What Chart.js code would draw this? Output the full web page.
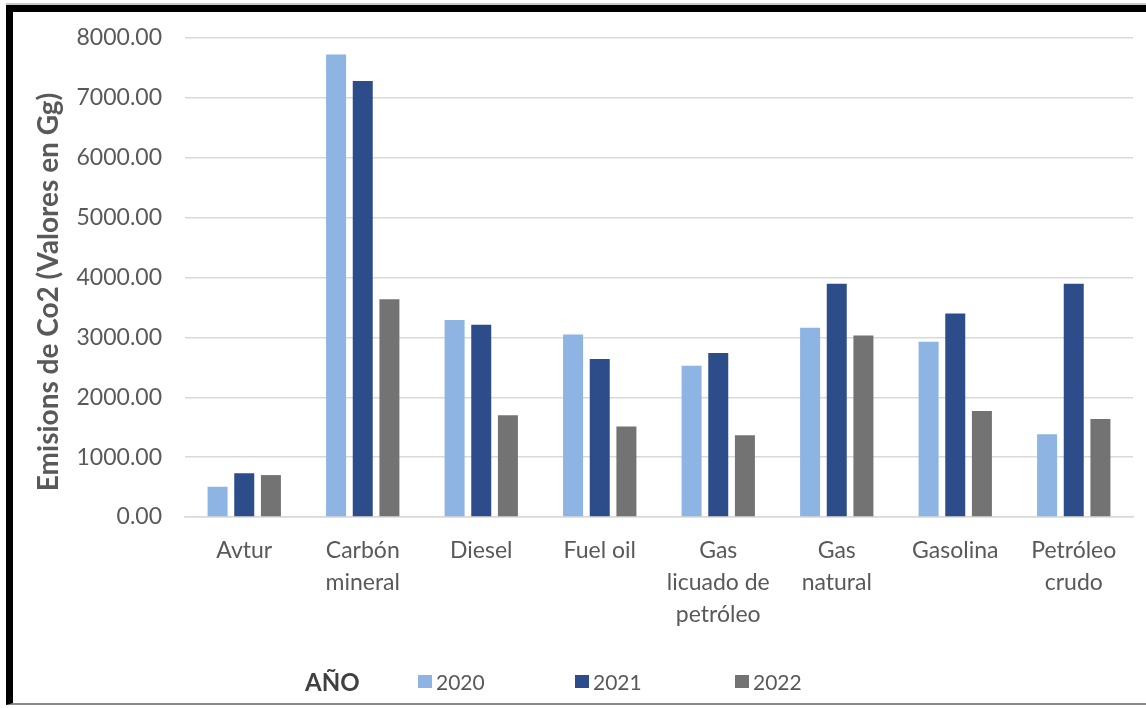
<!DOCTYPE html>
<html>
<head>
<meta charset="utf-8">
<script src="https://cdn.jsdelivr.net/npm/chart.js@4/dist/chart.umd.min.js"></script>
<style>
  html, body { margin: 0; padding: 0; background: #ffffff; }
  body { width: 1146px; height: 708px; position: relative; overflow: hidden; font-family: Lato, "Liberation Sans", sans-serif; }
  #wrap { position: absolute; left: 0; top: 0; width: 1146px; height: 708px; }
  #frame { position: absolute; left: 6px; top: 5px; width: 1160px; height: 700px;
           border-left: 7px solid #000; border-top: 7px solid #000; border-bottom: 2px solid #8a8a8a;
           box-sizing: border-box; pointer-events: none; }
  #topshade { position: absolute; left: 6px; top: 3px; width: 1160px; height: 2px; background: #c8c8c8; }
  #legend { position: absolute; left: 305px; top: 668px; height: 26px; display: flex; align-items: center;
            font-size: 21px; color: #595959; }
  #legend .ttl { font-weight: bold; color: #404040; font-size: 24px; }
  #legend .item { position: absolute; display: flex; align-items: center; white-space: nowrap; }
  #legend .box { width: 14px; height: 13px; margin-right: 4px; }
</style>
</head>
<body>
<div id="wrap"><canvas id="chart" width="1146" height="708"></canvas></div>
<div id="topshade"></div>
<div id="frame"></div>
<div id="legend"></div>
<script>
// Fuel categories (multi-line labels)
const categories = [
  ["Avtur"],
  ["Carbón", "mineral"],
  ["Diesel"],
  ["Fuel oil"],
  ["Gas", "licuado de", "petróleo"],
  ["Gas", "natural"],
  ["Gasolina"],
  ["Petróleo", "crudo"]
];

// CO2 emissions per year (Gg)
const years = ["2020", "2021", "2022"];
const values2020 = [505, 7725, 3290, 3050, 2528, 3160, 2925, 1380];
const values2021 = [730, 7280, 3210, 2640, 2740, 3895, 3400, 3895];
const values2022 = [700, 3635, 1700, 1510, 1367, 3030, 1770, 1635];

const yTicks = [0, 1000, 2000, 3000, 4000, 5000, 6000, 7000, 8000];
const yTitle = "Emisions de Co2 (Valores en Gg)";
const legendTitle = "AÑO";

const colors = ["#8db4e2", "#2c4d89", "#737373"];
const seriesValues = [values2020, values2021, values2022];
const textColor = "#595959";
const fontFamily = "Lato, 'Liberation Sans', sans-serif";

const datasets = years.map((y, i) => ({
  label: y,
  data: seriesValues[i],
  backgroundColor: colors[i],
  borderWidth: 0,
  categoryPercentage: 0.675,
  barPercentage: 0.75
}));

// Rotated y-axis title, drawn beside the tick labels
const yTitlePlugin = {
  id: 'yTitle',
  afterDraw(chart) {
    const ctx = chart.ctx;
    ctx.save();
    ctx.translate(49, 292);
    ctx.rotate(-Math.PI / 2);
    ctx.font = "bold 28px " + fontFamily;
    ctx.fillStyle = textColor;
    ctx.textAlign = "center";
    ctx.textBaseline = "middle";
    ctx.fillText(yTitle, 0, 0);
    ctx.restore();
  }
};

new Chart(document.getElementById('chart'), {
  type: 'bar',
  data: { labels: categories, datasets },
  plugins: [yTitlePlugin],
  options: {
    responsive: false,
    animation: false,
    maintainAspectRatio: false,
    layout: { padding: { left: 0, right: 13, top: 38, bottom: 0 } },
    plugins: {
      legend: { display: false },
      tooltip: { enabled: false }
    },
    scales: {
      x: {
        grid: { display: false, drawTicks: false },
        border: { display: true, color: "#d9d9d9", width: 1.5 },
        ticks: {
          color: textColor,
          font: { family: fontFamily, size: 23, lineHeight: 1.39 },
          padding: 18,
          maxRotation: 0,
          autoSkip: false
        },
        afterFit(scale) { scale.height = 191; }
      },
      y: {
        min: 0,
        max: 8000,
        afterBuildTicks(scale) { scale.ticks = yTicks.map(v => ({ value: v })); },
        grid: { color: "#d9d9d9", lineWidth: 1.5, drawTicks: false },
        border: { display: false },
        ticks: {
          color: textColor,
          font: { family: fontFamily, size: 23 },
          padding: 23,
          callback: v => Number(v).toFixed(2)
        },
        afterFit(scale) { scale.width = 185; }
      }
    }
  }
});

// Legend row: title followed by one swatch per year
const legend = document.getElementById('legend');
const ttl = document.createElement('span');
ttl.className = 'ttl';
ttl.textContent = legendTitle;
legend.appendChild(ttl);
const itemLeft = [113, 270, 430];
years.forEach((y, i) => {
  const it = document.createElement('div');
  it.className = 'item';
  it.style.left = itemLeft[i] + 'px';
  const b = document.createElement('span');
  b.className = 'box';
  b.style.background = colors[i];
  const t = document.createElement('span');
  t.textContent = y;
  it.appendChild(b);
  it.appendChild(t);
  legend.appendChild(it);
});
</script>
</body>
</html>
